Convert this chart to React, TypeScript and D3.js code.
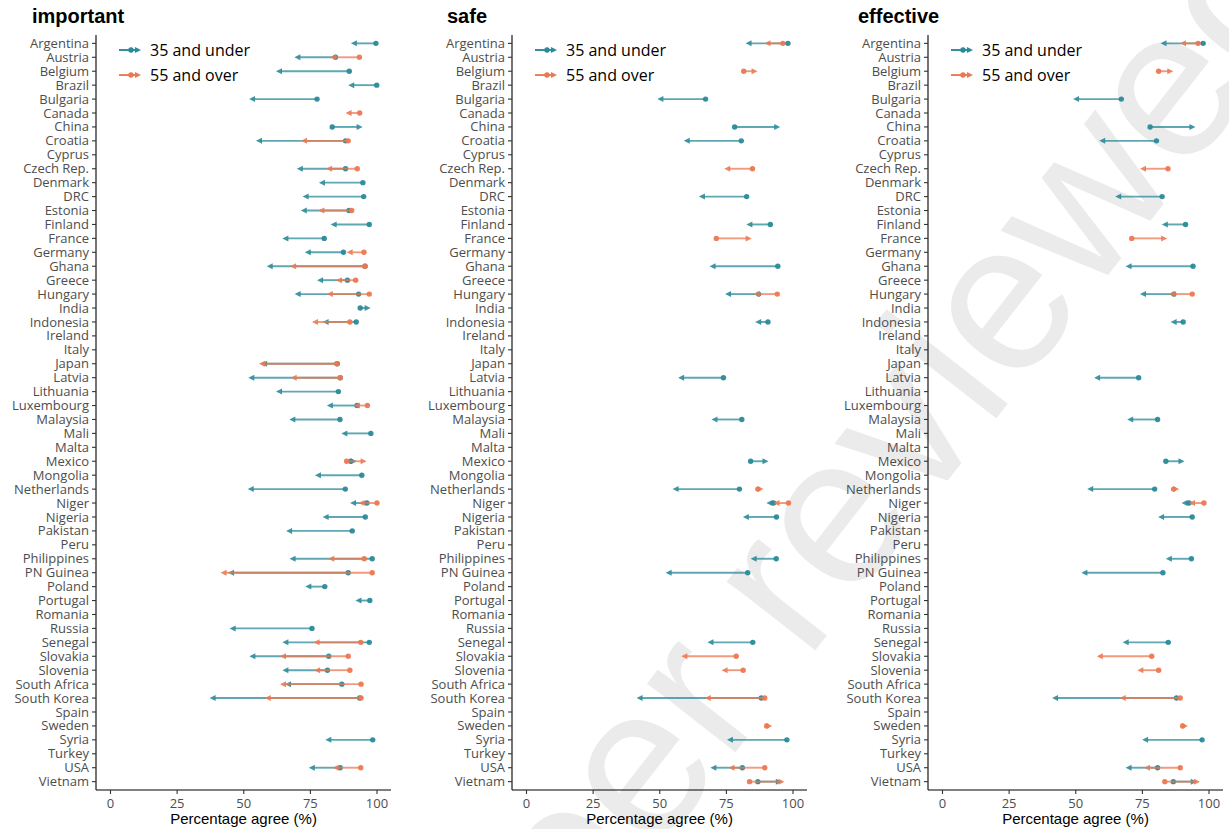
import React from "react";
import * as d3 from "d3";

const countries = [
  "Argentina", "Austria", "Belgium", "Brazil", "Bulgaria", "Canada", "China", "Croatia", "Cyprus",
  "Czech Rep.", "Denmark", "DRC", "Estonia", "Finland", "France", "Germany", "Ghana", "Greece",
  "Hungary", "India", "Indonesia", "Ireland", "Italy", "Japan", "Latvia", "Lithuania", "Luxembourg",
  "Malaysia", "Mali", "Malta", "Mexico", "Mongolia", "Netherlands", "Niger", "Nigeria", "Pakistan",
  "Peru", "Philippines", "PN Guinea", "Poland", "Portugal", "Romania", "Russia", "Senegal",
  "Slovakia", "Slovenia", "South Africa", "South Korea", "Spain", "Sweden", "Syria", "Turkey",
  "USA", "Vietnam",
];

type Arrow = [string, number, number]; // country, from, to

const importantYoung: Arrow[] = [
  ["Argentina", 99.6, 90.2], ["Austria", 84.4, 69.0], ["Belgium", 89.6, 62.1], ["Brazil", 99.9, 89.2],
  ["Bulgaria", 77.5, 52.0], ["China", 83.2, 94.6], ["Croatia", 88.2, 54.6], ["Czech Rep.", 88.2, 69.9],
  ["Denmark", 94.7, 78.2], ["DRC", 95.0, 72.1], ["Estonia", 89.5, 71.4], ["Finland", 97.1, 82.6],
  ["France", 80.2, 64.5], ["Germany", 87.4, 72.9], ["Ghana", 95.5, 58.6], ["Greece", 88.9, 77.5],
  ["Hungary", 93.1, 69.1], ["India", 93.7, 97.6], ["Indonesia", 92.2, 79.6], ["Japan", 85.1, 56.5],
  ["Latvia", 86.2, 51.7], ["Lithuania", 85.5, 62.1], ["Luxembourg", 92.5, 81.2], ["Malaysia", 86.1, 67.1],
  ["Mali", 97.7, 86.6], ["Mexico", 90.1, 92.4], ["Mongolia", 94.3, 76.7], ["Netherlands", 88.1, 51.5],
  ["Niger", 96.2, 89.9], ["Nigeria", 95.6, 79.6], ["Pakistan", 90.7, 65.9], ["Philippines", 98.2, 67.2],
  ["PN Guinea", 89.2, 44.1], ["Poland", 80.4, 73.1], ["Portugal", 97.3, 91.9], ["Russia", 75.6, 44.7],
  ["Senegal", 97.1, 64.5], ["Slovakia", 81.9, 52.1], ["Slovenia", 81.4, 64.5], ["South Africa", 86.8, 65.5],
  ["South Korea", 93.5, 37.2], ["Syria", 98.4, 80.6], ["USA", 86.2, 74.4],
];

const importantOld: Arrow[] = [
  ["Austria", 93.4, 82.4], ["Canada", 93.5, 88.2], ["Croatia", 89.2, 71.5], ["Czech Rep.", 92.6, 80.9],
  ["Estonia", 90.5, 78.0], ["Germany", 95.1, 88.6], ["Ghana", 95.5, 67.4], ["Greece", 92.0, 84.6],
  ["Hungary", 97.1, 81.2], ["Indonesia", 89.8, 75.6], ["Japan", 84.9, 55.7], ["Latvia", 86.2, 67.6],
  ["Luxembourg", 96.4, 91.3], ["Mexico", 88.6, 96.1], ["Niger", 100, 93.1], ["Philippines", 95.2, 81.7],
  ["PN Guinea", 98.2, 41.3], ["Senegal", 93.9, 76.2], ["Slovakia", 89.2, 63.6], ["Slovenia", 89.8, 76.4],
  ["South Africa", 94.0, 63.6], ["South Korea", 94.0, 57.9], ["USA", 93.9, 83.4],
];

const safeYoung: Arrow[] = [
  ["Argentina", 98.1, 82.2], ["Bulgaria", 67.2, 49.1], ["China", 78.1, 95.2], ["Croatia", 80.6, 59.0],
  ["DRC", 82.6, 64.7], ["Finland", 91.5, 82.5], ["Ghana", 94.3, 68.7], ["Hungary", 87.1, 74.5],
  ["Indonesia", 90.6, 85.8], ["Latvia", 73.9, 56.9], ["Malaysia", 80.8, 69.4], ["Mexico", 84.1, 90.8],
  ["Netherlands", 79.9, 54.8], ["Niger", 92.7, 90.0], ["Nigeria", 93.8, 81.2], ["Philippines", 93.7, 84.1],
  ["PN Guinea", 83.0, 52.2], ["Senegal", 84.9, 67.9], ["South Korea", 88.1, 41.3], ["Syria", 97.7, 75.2],
  ["USA", 81.0, 69.0], ["Vietnam", 86.8, 95.8],
];

const safeOld: Arrow[] = [
  ["Argentina", 96.2, 89.3], ["Belgium", 81.5, 86.7], ["Czech Rep.", 84.8, 74.2], ["France", 71.2, 84.5],
  ["Hungary", 94.1, 85.3], ["Netherlands", 86.8, 88.9], ["Niger", 98.3, 92.7], ["Slovakia", 78.7, 58.1],
  ["Slovenia", 81.3, 73.2], ["South Korea", 89.4, 66.9], ["Sweden", 90.1, 92.2], ["USA", 89.4, 75.8],
  ["Vietnam", 83.7, 96.8],
];

const effectiveYoung: Arrow[] = [
  ["Argentina", 97.8, 81.8], ["Bulgaria", 67.1, 49.0], ["China", 77.9, 94.9], ["Croatia", 80.3, 58.8],
  ["DRC", 82.4, 64.8], ["Finland", 91.2, 82.3], ["Ghana", 94.0, 68.7], ["Hungary", 86.8, 74.1],
  ["Indonesia", 90.3, 85.6], ["Latvia", 73.6, 56.9], ["Malaysia", 80.7, 69.3], ["Mexico", 83.8, 90.8],
  ["Netherlands", 79.6, 54.3], ["Niger", 92.5, 89.7], ["Nigeria", 93.7, 80.9], ["Philippines", 93.4, 83.8],
  ["PN Guinea", 82.7, 52.1], ["Senegal", 84.7, 67.6], ["South Korea", 87.8, 41.1], ["Syria", 97.4, 74.9],
  ["USA", 80.7, 68.7], ["Vietnam", 86.6, 95.4],
];

const effectiveOld: Arrow[] = [
  ["Argentina", 95.9, 89.1], ["Belgium", 81.1, 86.6], ["Czech Rep.", 84.6, 74.1], ["France", 71.0, 84.3],
  ["Hungary", 93.7, 85.2], ["Netherlands", 86.7, 88.8], ["Niger", 98.1, 92.5], ["Slovakia", 78.5, 57.9],
  ["Slovenia", 81.1, 73.1], ["South Korea", 89.2, 66.5], ["Sweden", 90.1, 92.1], ["USA", 89.2, 75.6],
  ["Vietnam", 83.4, 96.6],
];

const panelTitles = ["important", "safe", "effective"];
const xTicks = [0, 25, 50, 75, 100];
const legendLabels = ["35 and under", "55 and over"];
const xTitle = "Percentage agree (%)";
const watermark = "Not peer reviewed";

const TEAL = "#2a8a9a";
const ORANGE = "#ec7852";
const groupColors = [TEAL, ORANGE];

const panelData = [
  [importantYoung, importantOld],
  [safeYoung, safeOld],
  [effectiveYoung, effectiveOld],
];

const LABEL_FONT = "'Open Sans', 'Noto Sans', sans-serif";
const ARIAL = "'Liberation Sans', Arial, sans-serif";

function ArrowMark({ x1, x2, y, color }: { x1: number; x2: number; y: number; color: string }) {
  const dir = x2 >= x1 ? 1 : -1;
  const head = 6;
  const half = 3;
  const lineEnd = x2 - dir * (head - 1);
  return (
    <g>
      <line x1={x1} x2={lineEnd} y1={y} y2={y} stroke={color} strokeWidth={1.9} strokeOpacity={0.75} />
      <path
        d={`M${x2},${y} L${x2 - dir * head},${y - half} L${x2 - dir * head},${y + half} Z`}
        fill={color}
        fillOpacity={0.9}
      />
      <circle cx={x1} cy={y} r={2.7} fill={color} fillOpacity={0.95} />
    </g>
  );
}

export default function App() {
  const W = 1229;
  const H = 829;
  const panelLeft = [96, 512, 928];
  const titleX = [32, 447, 858];
  const panelW = 295;
  const top = 35;
  const bottom = 790;

  const y = d3.scalePoint<string>().domain(countries).range([top, bottom]).padding(0.6);

  const wmFont = 212;
  const wmAngle = -52;

  return (
    <svg
      width={W}
      height={H}
      style={{ position: "absolute", left: 0, top: 0, background: "#fff" }}
      xmlns="http://www.w3.org/2000/svg"
    >
      <rect x={0} y={0} width={W} height={H} fill="#fff" />
      <g transform={`translate(645,775) rotate(${wmAngle})`}>
        <text x={-3.224 * wmFont} y={0.27 * wmFont} fontFamily={ARIAL} fontSize={wmFont} fill="#ebebeb">
          {watermark}
        </text>
      </g>
      {panelTitles.map((title, pi) => {
        const left = panelLeft[pi];
        const x = d3.scaleLinear().domain([-5.44, 105.25]).range([left, left + panelW]);
        const [young, old] = panelData[pi];
        return (
          <g key={title}>
            <text x={titleX[pi]} y={23} fontFamily={ARIAL} fontWeight="bold" fontSize={20} fill="#000">
              {title}
            </text>
            <line x1={left} x2={left} y1={top} y2={bottom} stroke="#000" strokeWidth={1.1} />
            {countries.map((c) => (
              <g key={c}>
                <line x1={left - 4} x2={left} y1={y(c)} y2={y(c)} stroke="#333" strokeWidth={1.1} />
                <text
                  x={left - 7}
                  y={y(c)}
                  dy="0.35em"
                  textAnchor="end"
                  fontFamily={LABEL_FONT}
                  fontSize={13}
                  fill="#4d4d4d"
                >
                  {c}
                </text>
              </g>
            ))}
            <line x1={left} x2={left + panelW} y1={bottom} y2={bottom} stroke="#000" strokeWidth={1.1} />
            {xTicks.map((t) => (
              <g key={t}>
                <line x1={x(t)} x2={x(t)} y1={bottom} y2={bottom + 4} stroke="#333" strokeWidth={1.1} />
                <text
                  x={x(t)}
                  y={bottom + 13}
                  dy="0.35em"
                  textAnchor="middle"
                  fontFamily={LABEL_FONT}
                  fontSize={13}
                  fill="#4d4d4d"
                >
                  {t}
                </text>
              </g>
            ))}
            <text x={left + panelW / 2} y={824} textAnchor="middle" fontFamily={ARIAL} fontSize={15} fill="#000">
              {xTitle}
            </text>
            {[young, old].map((series, gi) => (
              <g key={gi}>
                {series.map(([c, from, to]) => (
                  <ArrowMark key={c} x1={x(from)} x2={x(to)} y={y(c) as number} color={groupColors[gi]} />
                ))}
              </g>
            ))}
            {legendLabels.map((lab, li) => {
              const ly = 50 + li * 25;
              const gx = left + 23;
              return (
                <g key={lab}>
                  <line x1={gx} x2={gx + 17} y1={ly} y2={ly} stroke={groupColors[li]} strokeWidth={1.9} />
                  <circle cx={gx + 12} cy={ly} r={2.7} fill={groupColors[li]} />
                  <path d={`M${gx + 22},${ly} L${gx + 16},${ly - 3} L${gx + 16},${ly + 3} Z`} fill={groupColors[li]} />
                  <text x={left + 54} y={ly} dy="0.35em" fontFamily={LABEL_FONT} fontSize={16} fill="#000">
                    {lab}
                  </text>
                </g>
              );
            })}
          </g>
        );
      })}
    </svg>
  );
}
